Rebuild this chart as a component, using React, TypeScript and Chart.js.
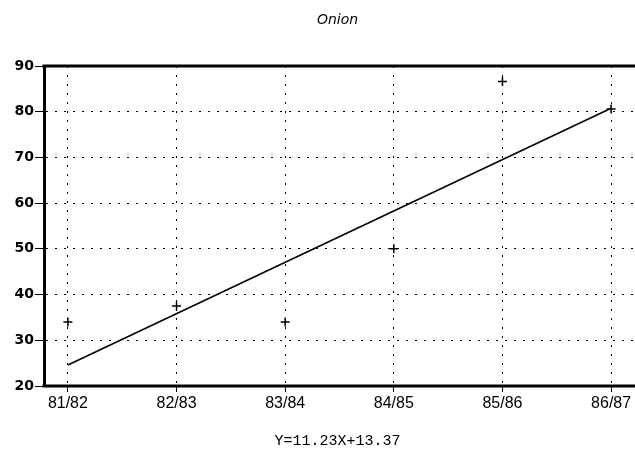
import React, { useEffect, useRef } from "react";
import { Chart, registerables } from "chart.js";

Chart.register(...registerables);

const titleText = "Onion";
const equationText = "Y=11.23X+13.37";
const categories = ["81/82", "82/83", "83/84", "84/85", "85/86", "86/87"];
const observed = [34, 37.5, 34, 50, 86.6, 80.6];
const trendX = [1, 6];
const trendY = [24.6, 80.75];
const yTicks = [20, 30, 40, 50, 60, 70, 80, 90];

const framePlugin = {
  id: "frame",
  afterDraw(chart: any) {
    const { ctx, chartArea } = chart;
    ctx.save();
    ctx.strokeStyle = "#000";
    ctx.lineWidth = 3;
    ctx.beginPath();
    ctx.moveTo(chartArea.left - 1.5, chartArea.top);
    ctx.lineTo(chartArea.right, chartArea.top);
    ctx.moveTo(chartArea.left - 1.5, chartArea.bottom);
    ctx.lineTo(chartArea.right, chartArea.bottom);
    ctx.stroke();
    ctx.fillStyle = "#000";
    ctx.textAlign = "center";
    ctx.textBaseline = "middle";
    const cx = (chartArea.left + chartArea.right) / 2 - 2;
    ctx.font = "italic 14px 'DejaVu Sans'";
    ctx.fillText(titleText, cx, 20);
    ctx.font = "15px 'Liberation Mono'";
    ctx.fillText(equationText, cx, 441);
    ctx.restore();
  },
};

export default function App() {
  const ref = useRef<HTMLCanvasElement | null>(null);
  useEffect(() => {
    document.body.style.margin = "0";
    if (!ref.current) return;
    const chart = new Chart(ref.current, {
      type: "scatter",
      data: {
        datasets: [
          {
            type: "line",
            data: trendX.map((x, i) => ({ x, y: trendY[i] })),
            borderColor: "#000",
            borderWidth: 1.5,
            pointRadius: 0,
            fill: false,
          } as any,
          {
            data: observed.map((y, i) => ({ x: i + 1, y })),
            pointStyle: "cross",
            pointRadius: 4.5,
            borderColor: "#000",
            backgroundColor: "#000",
            borderWidth: 1.5,
            showLine: false,
          },
        ],
      },
      options: {
        animation: false,
        responsive: false,
        maintainAspectRatio: false,
        layout: { autoPadding: false, padding: { top: 66, bottom: 36, left: 0, right: 0 } },
        plugins: { legend: { display: false }, tooltip: { enabled: false }, title: { display: false } },
        scales: {
          x: {
            type: "linear",
            min: 0.78,
            max: 6.22,
            afterBuildTicks: (scale: any) => {
              scale.ticks = categories.map((_, i) => ({ value: i + 1 }));
            },
            afterFit: (scale: any) => {
              scale.height = 30;
              scale.paddingRight = 0;
              scale.paddingLeft = 0;
            },
            ticks: {
              callback: (v: any) => categories[Math.round(v) - 1] ?? "",
              color: "#000",
              font: { family: "'Liberation Sans'", size: 16 },
              padding: 2,
              maxRotation: 0,
              autoSkip: false,
            },
            grid: { color: "#000", lineWidth: 1, tickLength: 6, drawTicks: true },
            border: { display: false, dash: [2, 7] },
          },
          y: {
            min: 20,
            max: 90,
            afterBuildTicks: (scale: any) => {
              scale.ticks = yTicks.map((value) => ({ value }));
            },
            afterFit: (scale: any) => {
              scale.width = 44;
            },
            ticks: {
              color: "#000",
              font: { family: "'DejaVu Sans'", size: 14, weight: "bold" },
              padding: 1,
            },
            grid: { color: "#000", lineWidth: 1, tickLength: 9, drawTicks: true },
            border: { display: true, color: "#000", width: 3, dash: [2, 7] },
          },
        },
      },
      plugins: [framePlugin],
    });
    return () => chart.destroy();
  }, []);
  return (
    <div style={{ width: 635, height: 452, background: "#fff" }}>
      <canvas ref={ref} width={635} height={452} style={{ display: "block" }} />
    </div>
  );
}
